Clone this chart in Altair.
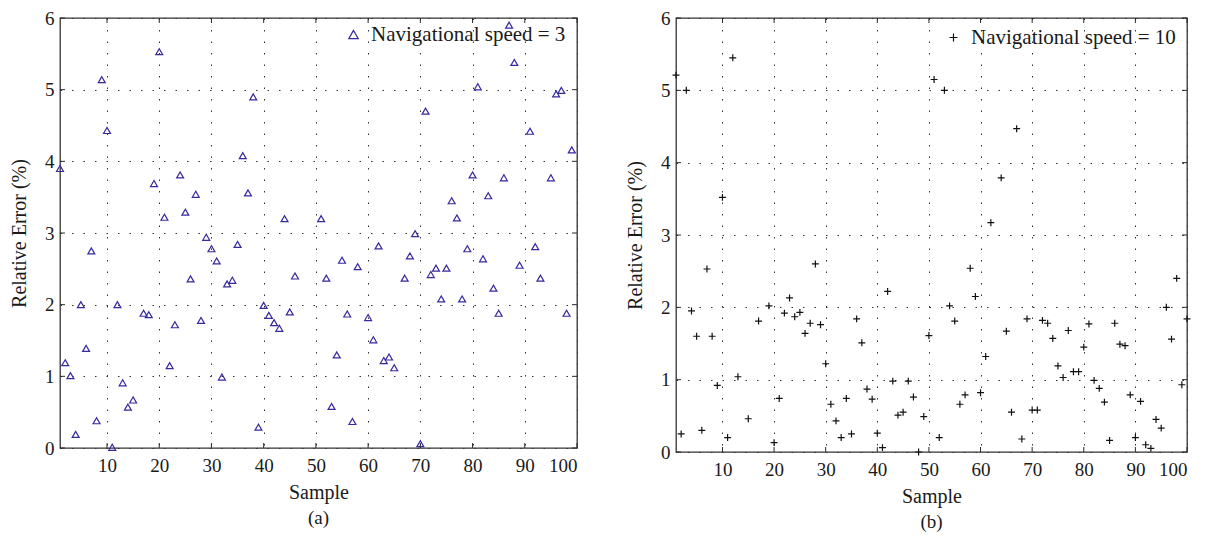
import altair as alt
import pandas as pd

# ---------------- data ----------------
samples_a = [1, 2, 3, 4, 5, 6, 7, 8, 9, 10, 11, 12, 13, 14, 15, 17, 18, 19, 20,
             21, 22, 23, 24, 25, 26, 27, 28, 29, 30, 31, 32, 33, 34, 35, 36, 37,
             38, 39, 40, 41, 42, 43, 44, 45, 46, 51, 52, 53, 54, 55, 56, 57, 58,
             60, 61, 62, 63, 64, 65, 67, 68, 69, 70, 71, 72, 73, 74, 75, 76, 77,
             78, 79, 80, 81, 82, 83, 84, 85, 86, 87, 88, 89, 91, 92, 93, 95, 96,
             97, 98, 99]
errors_a = [3.90, 1.19, 1.01, 0.19, 2.00, 1.39, 2.75, 0.38, 5.14, 4.43, 0.01,
            2.00, 0.91, 0.57, 0.67, 1.88, 1.86, 3.69, 5.53, 3.22, 1.15, 1.72,
            3.81, 3.29, 2.36, 3.54, 1.78, 2.94, 2.78, 2.61, 0.99, 2.29, 2.34,
            2.84, 4.08, 3.56, 4.90, 0.29, 1.99, 1.85, 1.75, 1.67, 3.20, 1.90,
            2.40, 3.20, 2.37, 0.58, 1.30, 2.62, 1.87, 0.37, 2.53, 1.82, 1.51,
            2.82, 1.22, 1.27, 1.12, 2.37, 2.68, 2.99, 0.06, 4.70, 2.42, 2.51,
            2.08, 2.51, 3.45, 3.21, 2.08, 2.78, 3.81, 5.04, 2.64, 3.52, 2.23,
            1.88, 3.77, 5.90, 5.38, 2.55, 4.42, 2.81, 2.37, 3.77, 4.94, 4.99,
            1.88, 4.16]

samples_b = [1, 2, 3, 4, 5, 6, 7, 8, 9, 10, 11, 12, 13, 15, 17, 19, 20, 21, 22,
             23, 24, 25, 26, 27, 28, 29, 30, 31, 32, 33, 34, 35, 36, 37, 38, 39,
             40, 41, 42, 43, 44, 45, 46, 47, 48, 49, 50, 51, 52, 53, 54, 55, 56,
             57, 58, 59, 60, 61, 62, 64, 65, 66, 67, 68, 69, 70, 71, 72, 73, 74,
             75, 76, 77, 78, 79, 80, 81, 82, 83, 84, 85, 86, 87, 88, 89, 90, 91,
             92, 93, 94, 95, 96, 97, 98, 99, 100]
errors_b = [5.21, 0.25, 5.00, 1.95, 1.60, 0.30, 2.53, 1.60, 0.92, 3.52, 0.20,
            5.45, 1.04, 0.46, 1.81, 2.02, 0.13, 0.74, 1.92, 2.13, 1.87, 1.93,
            1.64, 1.78, 2.60, 1.76, 1.22, 0.66, 0.43, 0.20, 0.74, 0.25, 1.84,
            1.51, 0.87, 0.73, 0.26, 0.06, 2.22, 0.98, 0.51, 0.55, 0.98, 0.76,
            0.00, 0.49, 1.61, 5.15, 0.20, 5.00, 2.02, 1.81, 0.66, 0.79, 2.54,
            2.15, 0.82, 1.32, 3.17, 3.79, 1.67, 0.55, 4.47, 0.18, 1.84, 0.58,
            0.58, 1.82, 1.78, 1.57, 1.19, 1.03, 1.68, 1.11, 1.11, 1.45, 1.77,
            0.99, 0.88, 0.69, 0.16, 1.78, 1.49, 1.47, 0.79, 0.20, 0.70, 0.10,
            0.05, 0.45, 0.33, 2.00, 1.56, 2.40, 0.93, 1.84]

x_ticks = [10, 20, 30, 40, 50, 60, 70, 80, 90, 100]
y_ticks = [0, 1, 2, 3, 4, 5, 6]
legend_a = "Navigational speed = 3"
legend_b = "Navigational speed = 10"
caption_a = "(a)"
caption_b = "(b)"
x_title = "Sample"
y_title = "Relative Error (%)"

FONT = "Liberation Serif"
PLUS = "M-1,0L1,0M0,-1L0,1"
TICK_COLOR = "#2a2a2a"
TICK_LEN = 5


def panel(samples, errors, label, color, shape, size, legend_size,
          caption, w, h, leg_x, leg_y, label_offset):
    df = pd.DataFrame({"Sample": samples, "err": errors, "series": label})
    xs = alt.Scale(domain=[1, 100], nice=False, zero=False)
    ys = alt.Scale(domain=[0, 6], nice=False, zero=False)
    x_axis = alt.Axis(values=x_ticks, title=x_title, format="d")
    y_axis = alt.Axis(values=y_ticks, title=y_title, format="d")

    pts = alt.Chart(df).mark_point(
        shape=shape, filled=False, size=size, strokeWidth=1.2, opacity=1
    ).encode(
        x=alt.X("Sample:Q", scale=xs, axis=x_axis),
        y=alt.Y("err:Q", scale=ys, axis=y_axis),
        color=alt.Color(
            "series:N", scale=alt.Scale(range=[color]),
            legend=alt.Legend(
                title=None, orient="none", legendX=leg_x, legendY=leg_y,
                padding=0, symbolType=shape, symbolSize=legend_size,
                symbolStrokeWidth=1.2, symbolFillColor="transparent",
                labelFont=FONT, labelFontSize=21, labelColor="#1a1a1a",
                labelOffset=label_offset, labelLimit=400,
            ),
        ),
    )

    xt = pd.DataFrame({"Sample": x_ticks})
    yt = pd.DataFrame({"err": y_ticks})
    rule = dict(color=TICK_COLOR, strokeWidth=1)
    bottom = alt.Chart(xt).mark_rule(**rule).encode(
        x=alt.X("Sample:Q", scale=xs, axis=x_axis),
        y=alt.value(h), y2=alt.value(h - TICK_LEN))
    top = alt.Chart(xt).mark_rule(**rule).encode(
        x=alt.X("Sample:Q", scale=xs, axis=x_axis),
        y=alt.value(0), y2=alt.value(TICK_LEN))
    left = alt.Chart(yt).mark_rule(**rule).encode(
        y=alt.Y("err:Q", scale=ys, axis=y_axis),
        x=alt.value(0), x2=alt.value(TICK_LEN))
    right = alt.Chart(yt).mark_rule(**rule).encode(
        y=alt.Y("err:Q", scale=ys, axis=y_axis),
        x=alt.value(w - TICK_LEN), x2=alt.value(w))

    return alt.layer(pts, bottom, top, left, right).properties(
        width=w, height=h,
        title=alt.TitleParams(caption, orient="bottom", anchor="middle",
                              font=FONT, fontSize=19, fontWeight="normal",
                              color="#1a1a1a", offset=7),
    )


panel_a = panel(samples_a, errors_a, legend_a, "#35299e", "triangle-up", 48, 90,
                caption_a, 517, 430, 283, 6, 7)
panel_b = panel(samples_b, errors_b, legend_b, "#111111", PLUS, 48, 64,
                caption_b, 511, 434, 267, 9, 7)

chart = alt.hconcat(panel_a, panel_b, spacing=45).resolve_scale(
    color="independent", x="independent", y="independent",
).resolve_legend(
    color="independent",
).configure(
    padding={"left": 0, "top": 0, "right": 0, "bottom": 0},
    font=FONT,
).configure_view(
    stroke="#333333", strokeWidth=1.3,
).configure_axis(
    grid=True, gridDash=[1.5, 10], gridColor="#333333", gridWidth=1,
    gridOpacity=1, domain=False, ticks=False, tickSize=0,
    labelFont=FONT, labelFontSize=19, labelColor="#1a1a1a",
    titleFont=FONT, titleFontSize=20, titleFontWeight="normal",
    titleColor="#1a1a1a",
).configure_axisX(
    labelPadding=8, titlePadding=7,
).configure_axisY(
    labelPadding=6, titlePadding=15,
)

chart.save("out.html", embed_options={"renderer": "svg", "actions": False})
